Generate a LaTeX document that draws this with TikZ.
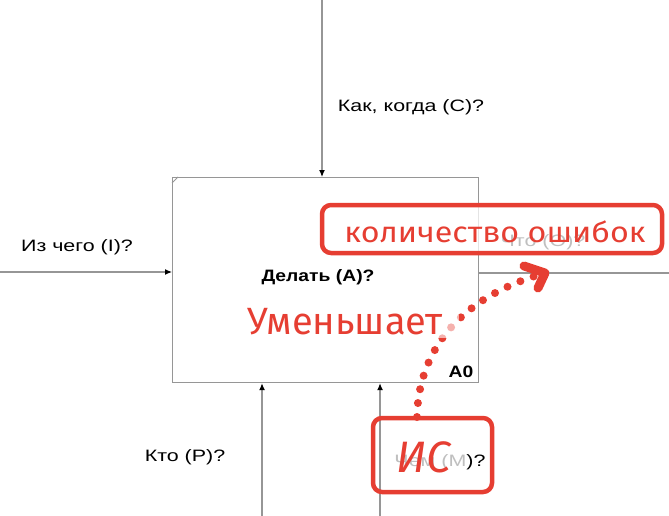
\documentclass[tikz,border=0pt]{standalone}
\usepackage{fontspec}
\setmainfont{Liberation Sans}
\newfontfamily\handfont{Fira Sans}
\usetikzlibrary{arrows.meta}
\definecolor{redmark}{RGB}{230,62,50}
\definecolor{idefgrey}{RGB}{150,150,150}
\newcommand{\wide}[1]{\scalebox{1.3}[1]{#1}}
\newcommand{\widebf}[1]{\scalebox{1.17}[1]{#1}}
\begin{document}
\begin{tikzpicture}[x=1pt,y=-1pt,
  flow/.style={draw=idefgrey,line width=1.2pt,-{Latex[length=7pt,width=6pt,color=black]}},
  plain/.style={draw=idefgrey,line width=1.2pt},
  lbl/.style={font=\fontsize{16.5}{18}\selectfont,text=black,inner sep=0pt},
  boldlbl/.style={font=\fontsize{16.5}{18}\selectfont\bfseries,text=black,inner sep=0pt},
  redbox/.style={draw=redmark,line width=4.5pt,rounded corners=9pt,inner sep=0pt},
  veil/.style={fill=white,fill opacity=0.75,inner sep=0pt},
  redtext/.style={text=redmark,inner sep=0pt},
  dots/.style={draw=redmark,line width=8pt,line cap=round,dash pattern=on 0pt off 14pt},
  chevron/.style={draw=redmark,line width=9pt,line cap=round,line join=round}
]
\useasboundingbox (0,0) rectangle (669,516);
% main activity box
\node[draw=idefgrey,line width=1.2pt,minimum width=306pt,minimum height=205pt,inner sep=0pt,anchor=north west] (A) at (172,177) {};
\draw[plain,line width=0.8pt] ([yshift=-6pt]A.north west) -- ([xshift=6pt]A.north west);
\node[boldlbl] (title) at (318,277) {\widebf{Делать (А)?}};
\node[boldlbl] (a0) at (461,372) {\widebf{A0}};
% control
\coordinate (cin) at (322,0);
\draw[flow] (cin) -- (cin |- A.north);
\node[lbl] (clbl) at (411,107) {\wide{Как, когда (С)?}};
% input
\coordinate (iin) at (0,272);
\draw[flow] (iin) -- (iin -| A.west);
\node[lbl] (ilbl) at (77,247) {\wide{Из чего (I)?}};
% output
\coordinate (oout) at (669,273);
\draw[plain] (oout -| A.east) -- (oout);
\node[lbl] (olbl) at (543,242) {\wide{Что (O)?}};
% mechanisms
\coordinate (m1) at (262,516);
\coordinate (m2) at (380,516);
\draw[flow] (m1) -- (m1 |- A.south);
\draw[flow] (m2) -- (m2 |- A.south);
\node[lbl] (plbl) at (185,457) {\wide{Кто (P)?}};
\node[lbl] (mlbl) at (440,462) {\wide{Чем (M)?}};
% red annotations
\coordinate (ds) at (417,417);
\coordinate (tip) at (545,273);
\draw[dots] (ds) .. controls (418,360) and (450,300) .. (tip);
\draw[chevron] (524,266) -- (tip) -- (538,288);
\node[redtext,fill=white,fill opacity=0.6,text opacity=1,inner xsep=16pt,inner ysep=3pt,font=\handfont\fontsize{38}{40}\selectfont] (umen) at (345,322) {Уменьшает};
\node[redbox,veil,minimum width=340pt,minimum height=48pt] (box1) at (492,229) {};
\node[redtext,font=\handfont\fontsize{29}{32}\selectfont] (kol) at (495,232) {\scalebox{1.11}[1]{количество ошибок}};
\node[redbox,minimum width=119pt,minimum height=74pt] (box2) at (432.5,455) {};
\node[veil,minimum width=72pt,minimum height=56pt] (isveil) at (430,457) {};
\node[redtext,font=\handfont\itshape\fontsize{44}{46}\selectfont] (is) at (424,457) {ИС};
\end{tikzpicture}
\end{document}
